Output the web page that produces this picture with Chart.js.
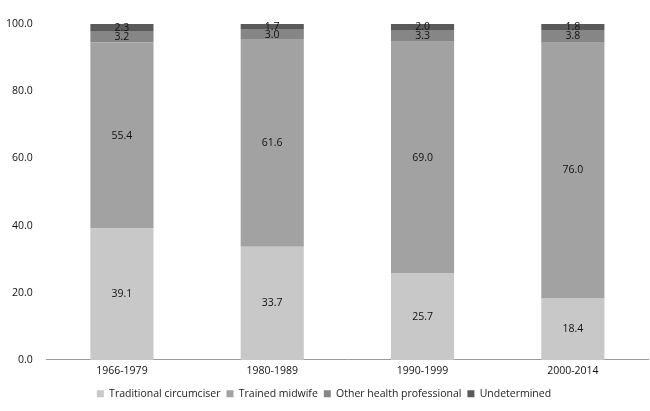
<!DOCTYPE html>
<html><head><meta charset="utf-8">
<script src="https://cdn.jsdelivr.net/npm/chart.js@4/dist/chart.umd.min.js"></script>
<style>html,body{margin:0;padding:0;background:#fff}#w{width:650px;height:411px}</style>
</head><body><div id="w"><canvas id="c"></canvas></div>
<script>
const categories = ["1966-1979","1980-1989","1990-1999","2000-2014"];
const traditional = [39.1,33.7,25.7,18.4];
const midwife = [55.4,61.6,69.0,76.0];
const otherHealth = [3.2,3.0,3.3,3.8];
const undetermined = [2.3,1.7,2.0,1.8];
const yTicks = [0,20,40,60,80,100];
const FONT = '"Open Sans", Lato, sans-serif';

const labelPlugin = {
  id:'lbl',
  afterDatasetsDraw(chart){
    const ctx = chart.ctx;
    ctx.save();
    ctx.font = '10.5px ' + FONT;
    ctx.fillStyle = '#111';
    ctx.textAlign = 'center';
    ctx.textBaseline = 'middle';
    chart.data.datasets.forEach((ds,i)=>{
      chart.getDatasetMeta(i).data.forEach((bar,j)=>{
        const y = (bar.y + bar.base)/2;
        ctx.fillText(ds.data[j].toFixed(1), bar.x, y);
      });
    });
    ctx.restore();
  }
};

new Chart(document.getElementById('c'),{
  type:'bar',
  data:{labels:categories,datasets:[
    {label:'Traditional circumciser',data:traditional,backgroundColor:'#c8c8c8'},
    {label:'Trained midwife',data:midwife,backgroundColor:'#a2a2a2'},
    {label:'Other health professional',data:otherHealth,backgroundColor:'#868686'},
    {label:'Undetermined',data:undetermined,backgroundColor:'#5a5a5a'}
  ]},
  options:{
    responsive:true,maintainAspectRatio:false,animation:false,
    layout:{padding:{top:24,right:2,left:0,bottom:2}},
    datasets:{bar:{barPercentage:0.42,categoryPercentage:1}},
    scales:{
      x:{stacked:true,grid:{display:false,drawTicks:false},border:{color:'#999'},
         ticks:{color:'#111',font:{size:10.5,family:FONT},padding:5}},
      y:{stacked:true,min:0,max:100,grid:{display:false},border:{display:false},
         afterBuildTicks(a){a.ticks=yTicks.map(v=>({value:v}));},
         ticks:{color:'#111',font:{size:10.5,family:FONT},callback:v=>Number(v).toFixed(1),padding:6}}
    },
    plugins:{
      legend:{position:'bottom',labels:{boxWidth:7,boxHeight:7,padding:6,color:'#222',font:{size:10.5,family:FONT}}},
      tooltip:{enabled:false}
    }
  },
  plugins:[labelPlugin]
});
</script></body></html>
